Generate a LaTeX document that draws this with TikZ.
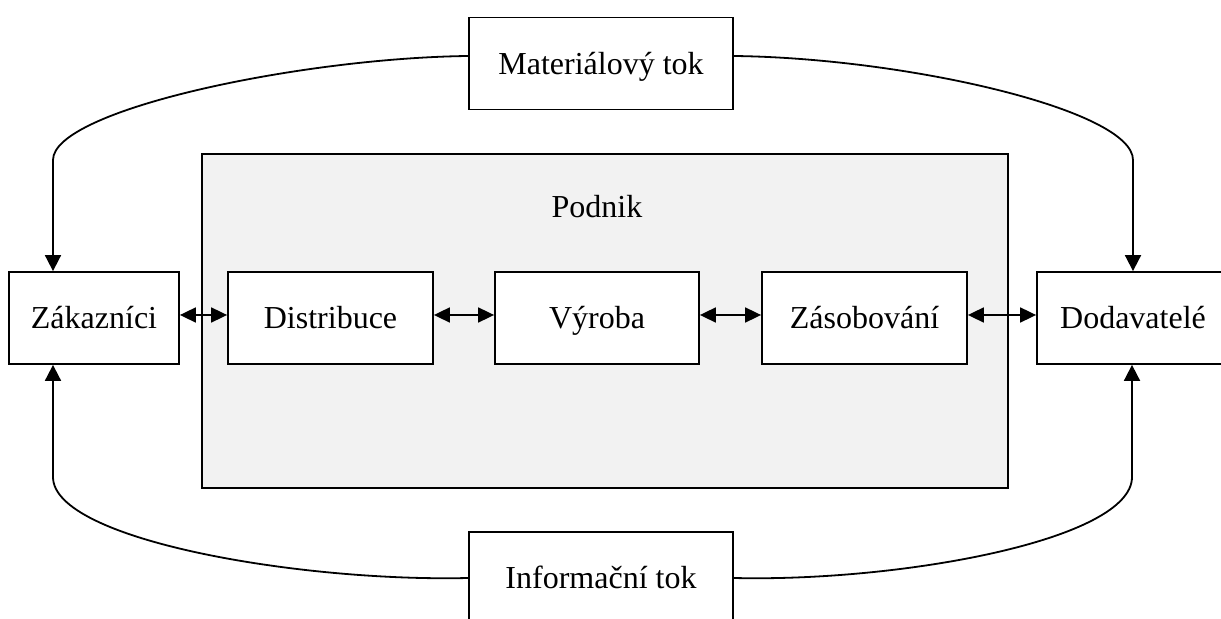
\documentclass[tikz,border=0pt]{standalone}
\usepackage{fontspec}
\setmainfont{Liberation Serif}
\usetikzlibrary{arrows.meta}

\tikzset{
  box/.style={draw,line width=.9pt,fill=white,minimum height=46pt,inner sep=0pt,text height=12.5pt,text depth=1.5pt},
  flow/.style={line width=.9pt,-{Triangle[length=8pt,width=8pt]}},
  pair/.style={line width=.9pt,{Triangle[length=8pt,width=7.5pt]}-{Triangle[length=8pt,width=7.5pt]}}
}

\begin{document}
\begin{tikzpicture}[x=.5pt,y=-.5pt,font=\fontsize{16}{19}\selectfont]
  \clip (0,0) rectangle (1221,619);

  % company frame
  \node[draw,line width=.9pt,fill=gray!10,minimum width=403pt,minimum height=167pt,inner sep=0pt] (podnik) at (605,321) {};
  \node (podniklbl) at (597,207) {Podnik};

  \node[box,minimum width=132pt] (mat) at (601,63.5) {Materiálový tok};
  \node[box,minimum width=132pt] (inf) at (601,578) {Informační tok};

  \node[box,minimum width=85pt] (zak) at (94,318) {Zákazníci};
  \node[box,minimum width=102.5pt] (dist) at (330.5,318) {Distribuce};
  \node[box,minimum width=102pt] (vyr) at (597,318) {Výroba};
  \node[box,minimum width=102.5pt] (zas) at (864.5,318) {Zásobování};
  \node[box,minimum width=96pt] (dod) at (1133,318) {Dodavatelé};

  \coordinate (zt) at (53,160);
  \coordinate (dt) at (1133,160);
  \coordinate (zb) at (53,477);
  \coordinate (db) at (1132,477);

  \draw[pair] ([yshift=1.5pt]zak.east) -- ([yshift=1.5pt]dist.west);
  \draw[pair] ([yshift=1.5pt]dist.east) -- ([yshift=1.5pt]vyr.west);
  \draw[pair] ([yshift=1.5pt]vyr.east) -- ([yshift=1.5pt]zas.west);
  \draw[pair] ([yshift=1.5pt]zas.east) -- ([yshift=1.5pt]dod.west);

  \draw[flow] ([yshift=3.75pt]mat.west) .. controls (300,58) and (53,110) .. (zt) -- (zt |- zak.north);
  \draw[flow] ([yshift=3.75pt]mat.east) .. controls (906,58) and (1133,110) .. (dt) -- (dt |- dod.north);
  \draw[flow] (inf.west) .. controls (300,582) and (53,540) .. (zb) -- (zb |- zak.south);
  \draw[flow] (inf.east) .. controls (900,582) and (1132,540) .. (db) -- (db |- dod.south);
\end{tikzpicture}
\end{document}
